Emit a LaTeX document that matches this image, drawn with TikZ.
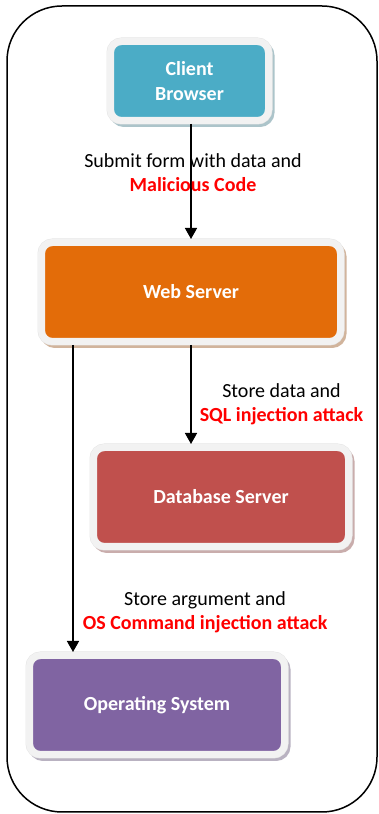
\documentclass[tikz,border=0pt]{standalone}
\usepackage{fontspec}
\setmainfont{Carlito}
\usepackage{tikz}
\usetikzlibrary{arrows.meta}
\definecolor{aquabox}{HTML}{4BACC6}
\definecolor{orangebox}{HTML}{E36C09}
\definecolor{redbox}{HTML}{C0504D}
\definecolor{purplebox}{HTML}{8064A2}
\definecolor{framegray}{HTML}{F2F2F2}
\definecolor{attackred}{HTML}{FF0000}

\tikzset{
  srvbox/.style={rounded corners=11pt, fill=#1, draw=framegray, line width=7pt,
    preaction={draw=#1!45!gray!55, fill=#1!45!gray!55, line width=7pt,
      transform canvas={xshift=2.5pt,yshift=-3pt}},
    preaction={draw=black!10, line width=8pt},
    text=white, font=\fontsize{20}{25}\selectfont\bfseries, align=center, inner sep=0pt},
  flowlbl/.style={font=\fontsize{20}{24}\selectfont, align=center, inner sep=0pt},
}

\begin{document}
\begin{tikzpicture}[x=1pt, y=1pt, >={Triangle[width=12pt,length=11pt]}, line width=1.5pt]
  \useasboundingbox (0,0) rectangle (378,814);
  % outer frame
  \draw[rounded corners=55pt] (7,808) rectangle (377,2);

  % boxes
  \node[srvbox=aquabox, minimum width=158, minimum height=79] (client) at (189.5,733) {Client\\Browser};
  \node[srvbox=orangebox, minimum width=299, minimum height=99] (web) at (191,522) {Web Server};
  \node[srvbox=redbox, minimum width=255, minimum height=99] (db) at (221,317) {Database Server};
  \node[srvbox=purplebox, minimum width=255, minimum height=99] (os) at (157,109) {Operating System};
  \coordinate (tap) at (73,0);

  % requests
  \draw[->] (client.south -| web.north) -- node[flowlbl, pos=.42, xshift=2pt] {Submit form with data and\\\textcolor{attackred}{\bfseries Malicious Code}} (web.north);
  \draw[->] (web.south) -- node[flowlbl, pos=.6, anchor=west, xshift=8pt] {Store data and\\\textcolor{attackred}{\bfseries SQL injection attack}} (web.south |- db.north);
  \draw[->] (web.south -| tap) -- node[flowlbl, pos=.87, anchor=west, xshift=9pt] {Store argument and\\\textcolor{attackred}{\bfseries OS Command injection attack}} (os.north -| tap);
\end{tikzpicture}
\end{document}
